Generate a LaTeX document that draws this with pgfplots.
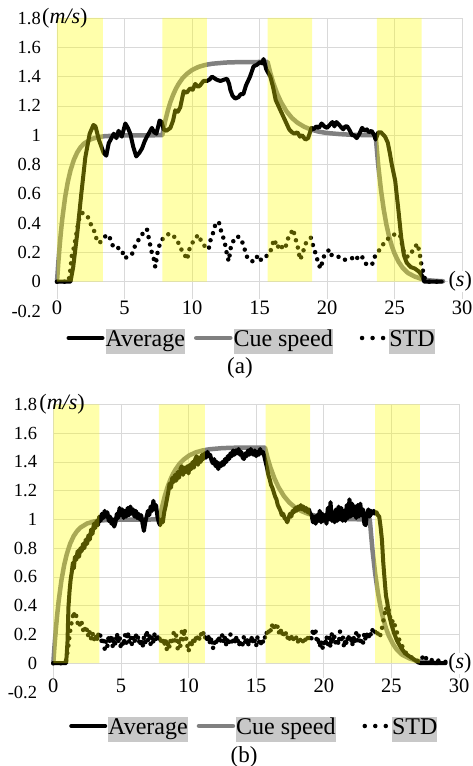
\documentclass[border=0pt]{standalone}
\usepackage{fontspec}
\setmainfont{Liberation Serif}
\usepackage{pgfplots}
\usepackage{pgfplotstable}
\pgfplotsset{compat=1.18}

\definecolor{gridgray}{RGB}{217,217,217}
\definecolor{cuegray}{RGB}{128,128,128}
\definecolor{hl}{RGB}{200,200,200}
\definecolor{band}{RGB}{255,255,0}

\newcommand{\legtext}[1]{{\setlength{\fboxsep}{0pt}\colorbox{hl}{\strut #1}}}

\pgfplotsset{
  panel/.style={
    scale only axis,
    xmin=0, xmax=30, ymin=-0.2, ymax=1.8,
    xtick={0,5,10,15,20,25,30},
    ytick={0,0.2,0.4,0.6,0.8,1,1.2,1.4,1.6,1.8},
    extra y ticks={-0.2},
    extra y tick style={grid=none},
    grid=major,
    grid style={line width=0.8pt, color=gridgray},
    axis line style={draw=none},
    major tick length=0pt,
    clip=false,
    /pgf/number format/assume math mode=true,
    yticklabel style={font=\fontsize{18.5}{20}\selectfont, anchor=east, inner sep=0pt, xshift=-16pt,
      /pgf/number format/fixed, /pgf/number format/precision=1},
    xticklabel style={font=\fontsize{20.5}{21}\selectfont, anchor=center, inner sep=1.5pt, fill=white},
    legend columns=3,
    legend style={draw=none, fill=none, inner sep=0pt, anchor=center,
      font=\fontsize{24}{25}\selectfont,
      nodes={inner sep=0pt},
      /tikz/column 1/.style={column sep=1pt},
      /tikz/column 2/.style={column sep=9pt},
      /tikz/column 3/.style={column sep=1pt},
      /tikz/column 4/.style={column sep=27pt},
      /tikz/column 5/.style={column sep=3pt}},
    legend image code/.code={\draw[##1] (0pt,0pt) -- (34pt,0pt);},
  },
  stdleg/.style={legend image code/.code={\draw[##1, dash pattern=on 0pt off 10.5pt] (2pt,0pt) -- (24pt,0pt);}},
  avg/.style={black, line width=4pt, line join=round, line cap=round},
  cue/.style={cuegray, line width=4.5pt, line join=round, line cap=round},
  std/.style={black, line width=4.5pt, line cap=round, dash pattern=on 0pt off 7.5pt},
  bandfill/.style={draw=none, fill=band, fill opacity=0.33, forget plot},
}

% cue speed (a)
\pgfplotstableread{
t v
0 0
0.1 0.133
0.2 0.249
0.3 0.349
0.4 0.435
0.6 0.576
0.8 0.681
1.0 0.760
1.25 0.832
1.5 0.883
1.75 0.918
2.0 0.943
2.5 0.972
3.0 0.986
3.5 0.993
4.5 0.998
7.8 1.0
8.0 1.091
8.2 1.165
8.4 1.226
8.6 1.275
8.8 1.316
9.0 1.349
9.3 1.389
9.6 1.417
10.0 1.445
10.5 1.467
11.0 1.480
11.5 1.488
12.5 1.496
13.5 1.499
15.6 1.5
15.8 1.426
16.0 1.363
16.3 1.286
16.6 1.225
17.0 1.163
17.4 1.118
17.8 1.086
18.3 1.058
18.8 1.039
19.4 1.024
20.0 1.015
21.0 1.007
22.0 1.002
23.6 1.0
23.8 0.79
24.0 0.625
24.2 0.494
24.4 0.390
24.6 0.308
24.8 0.244
25.0 0.193
25.3 0.136
25.6 0.095
26.0 0.059
26.5 0.035
27.0 0.019
27.5 0.010
28.0 0.006
28.6 0.003
}\cueA

% cue speed (b)
\pgfplotstableread{
t v
0 0
0.1 0.133
0.2 0.249
0.3 0.349
0.4 0.435
0.6 0.576
0.8 0.681
1.0 0.760
1.25 0.832
1.5 0.883
1.75 0.918
2.0 0.943
2.5 0.972
3.0 0.986
3.5 0.993
4.5 0.998
7.85 1.0
8.05 1.091
8.25 1.165
8.45 1.226
8.65 1.275
8.85 1.316
9.05 1.349
9.35 1.389
9.65 1.417
10.05 1.445
10.55 1.467
11.05 1.480
11.55 1.488
12.5 1.496
13.5 1.499
15.65 1.5
15.85 1.426
16.05 1.363
16.35 1.286
16.65 1.225
17.05 1.163
17.45 1.118
17.85 1.086
18.35 1.058
18.85 1.039
19.45 1.024
20.0 1.015
21.0 1.007
22.0 1.002
23.4 1.0
23.6 0.79
23.8 0.625
24.0 0.494
24.2 0.390
24.4 0.308
24.6 0.244
24.8 0.193
25.1 0.136
25.4 0.095
25.8 0.059
26.3 0.035
26.8 0.019
27.3 0.010
27.8 0.006
28.4 0.002
}\cueB

% average (a)
\pgfplotstableread{
t v
0 0
0.5 0
1.0 0
1.2 0.1
1.5 0.33
1.8 0.6
2.1 0.85
2.42 1.01
2.7 1.07
2.85 1.06
3.1 0.97
3.45 0.88
3.65 0.86
3.83 0.945
4.2 1.01
4.4 0.98
4.56 1.03
4.8 0.99
5.06 1.08
5.25 1.05
5.43 1.01
5.65 0.92
5.87 0.855
6.1 0.88
6.3 0.91
6.5 0.96
6.66 0.99
6.85 1.02
7.03 1.05
7.2 1.02
7.36 1.01
7.6 1.10
7.75 1.09
7.9 1.04
8.1 1.03
8.4 1.05
8.6 1.10
8.76 1.17
8.95 1.16
9.13 1.19
9.38 1.30
9.6 1.29
9.87 1.32
10.05 1.31
10.24 1.35
10.45 1.33
10.6 1.34
10.85 1.37
11.1 1.37
11.3 1.38
11.48 1.40
11.8 1.38
12.1 1.37
12.4 1.38
12.6 1.385
12.75 1.35
12.84 1.31
13.0 1.27
13.2 1.25
13.45 1.26
13.6 1.28
13.8 1.28
14.0 1.34
14.3 1.40
14.56 1.47
14.8 1.48
15.06 1.50
15.2 1.49
15.3 1.52
15.5 1.45
15.8 1.40
16.0 1.33
16.2 1.24
16.4 1.20
16.55 1.17
16.8 1.12
17.0 1.08
17.2 1.04
17.4 1.02
17.6 1.01
17.8 1.02
18.0 0.99
18.15 1.0
18.4 0.97
18.6 0.98
18.85 1.05
19.0 1.04
19.2 1.06
19.4 1.05
19.6 1.08
19.8 1.06
20.0 1.05
20.2 1.07
20.4 1.09
20.55 1.06
20.7 1.09
20.9 1.07
21.2 1.04
21.35 1.06
21.5 1.06
21.7 1.03
21.85 1.0
22.0 1.0
22.2 0.98
22.4 1.01
22.6 1.05
22.8 1.03
22.95 1.04
23.1 1.02
23.3 1.03
23.5 1.0
23.6 0.97
23.8 1.02
24.0 1.02
24.3 0.99
24.5 0.95
24.65 0.88
24.8 0.80
25.05 0.69
25.3 0.48
25.5 0.30
25.7 0.18
25.9 0.13
26.2 0.10
26.5 0.09
26.8 0.07
27.05 0.04
27.2 0
28.5 0
}\avgA

% average (b)
\pgfplotstableread{
t v
0 0
0.5 0
0.95 0
1.05 0.15
1.12 0.39
1.2 0.50
1.28 0.58
1.36 0.63
1.45 0.70
1.52 0.66
1.6 0.74
1.7 0.72
1.8 0.78
1.9 0.74
2.0 0.80
2.1 0.78
2.2 0.83
2.3 0.80
2.4 0.86
2.5 0.83
2.6 0.89
2.7 0.86
2.8 0.93
2.9 0.90
3.0 0.97
3.1 0.94
3.2 0.99
3.3 0.96
3.4 1.02
3.5 0.99
3.6 1.04
3.7 1.01
3.8 1.06
3.9 1.02
4.0 1.05
4.1 0.99
4.2 1.02
4.3 0.97
4.4 1.00
4.5 0.95
4.6 0.98
4.7 1.04
4.8 1.01
4.9 1.08
5.0 1.03
5.1 1.07
5.2 1.01
5.3 1.06
5.4 1.02
5.5 1.08
5.6 1.03
5.7 1.09
5.8 1.04
5.9 1.07
6.0 1.02
6.1 1.06
6.2 1.01
6.3 1.04
6.4 1.00
6.5 1.03
6.6 0.97
6.7 0.92
6.8 0.98
6.9 1.02
7.0 1.06
7.1 1.03
7.2 1.09
7.3 1.06
7.4 1.13
7.5 1.07
7.6 1.10
7.7 1.02
7.8 0.98
7.9 0.96
8.0 1.00
8.1 0.98
8.2 1.05
8.3 1.09
8.4 1.14
8.5 1.19
8.6 1.25
8.7 1.22
8.8 1.29
8.9 1.26
9.0 1.31
9.1 1.27
9.2 1.33
9.3 1.29
9.4 1.35
9.5 1.37
9.6 1.31
9.7 1.36
9.8 1.33
9.9 1.37
10.0 1.32
10.1 1.38
10.2 1.35
10.3 1.40
10.4 1.36
10.5 1.42
10.6 1.44
10.7 1.38
10.8 1.43
10.9 1.40
11.0 1.45
11.1 1.42
11.2 1.46
11.3 1.43
11.4 1.47
11.5 1.44
11.6 1.45
11.7 1.41
11.8 1.39
11.9 1.42
12.0 1.37
12.1 1.40
12.2 1.35
12.3 1.39
12.4 1.37
12.5 1.40
12.6 1.38
12.7 1.42
12.8 1.40
12.9 1.44
13.0 1.42
13.1 1.46
13.2 1.44
13.3 1.48
13.4 1.45
13.5 1.48
13.6 1.46
13.7 1.49
13.8 1.45
13.9 1.47
14.0 1.43
14.1 1.42
14.2 1.46
14.3 1.44
14.4 1.48
14.5 1.45
14.6 1.49
14.7 1.46
14.8 1.45
14.9 1.48
15.0 1.44
15.1 1.47
15.2 1.45
15.3 1.49
15.4 1.46
15.5 1.47
15.6 1.44
15.7 1.40
15.8 1.36
15.9 1.31
16.0 1.28
16.1 1.24
16.2 1.22
16.3 1.19
16.4 1.16
16.5 1.14
16.6 1.10
16.7 1.08
16.8 1.06
16.9 1.03
17.0 1.04
17.1 1.01
17.2 1.00
17.3 0.98
17.4 1.01
17.5 1.04
17.6 1.02
17.7 1.06
17.8 1.05
17.9 1.08
18.0 1.06
18.1 1.09
18.2 1.07
18.3 1.10
18.4 1.07
18.5 1.09
18.6 1.06
18.7 1.08
18.8 1.05
18.9 1.07
19.0 1.04
19.1 1.03
19.2 0.98
19.3 1.02
19.4 0.97
19.5 1.03
19.6 0.99
19.7 1.06
19.8 0.98
19.9 1.04
20.0 0.99
20.1 1.03
20.2 0.97
20.3 1.08
20.4 1.00
20.5 1.12
20.6 0.99
20.7 1.05
20.8 0.98
20.9 1.07
21.0 0.99
21.1 1.09
21.2 1.00
21.3 1.08
21.4 0.99
21.5 1.06
21.6 0.99
21.7 1.10
21.8 1.01
21.9 1.14
22.0 1.02
22.1 1.11
22.2 1.03
22.3 1.09
22.4 1.01
22.5 1.10
22.6 1.02
22.7 1.11
22.8 1.03
22.9 1.07
23.0 0.97
23.1 0.96
23.2 1.04
23.3 1.07
23.4 1.02
23.5 1.06
23.6 1.04
23.7 1.06
23.8 1.04
23.9 1.05
24.0 1.03
24.1 1.02
24.2 0.95
24.3 0.86
24.4 0.70
24.5 0.58
24.6 0.47
24.7 0.42
24.8 0.35
24.9 0.31
25.0 0.27
25.2 0.21
25.4 0.16
25.7 0.11
26.0 0.07
26.3 0.05
26.7 0.025
27.0 0.005
27.2 0
29.0 0
}\avgB

% STD (a)
\pgfplotstableread{
t v
0 0
0.85 0
0.99 0.08
1.1 0.18
1.27 0.24
1.48 0.35
1.6 0.42
1.85 0.47
2.17 0.46
2.35 0.43
2.6 0.37
2.85 0.33
2.96 0.27
3.2 0.27
3.58 0.31
3.83 0.32
3.95 0.29
4.2 0.23
4.56 0.23
4.8 0.22
4.99 0.16
5.24 0.17
5.55 0.185
5.68 0.23
5.93 0.26
6.1 0.30
6.37 0.33
6.66 0.36
6.86 0.27
7.03 0.195
7.16 0.16
7.28 0.10
7.45 0.20
7.65 0.27
7.9 0.30
8.15 0.32
8.4 0.33
8.64 0.31
8.89 0.29
9.13 0.23
9.38 0.20
9.63 0.15
9.83 0.23
10.0 0.26
10.25 0.30
10.5 0.32
10.74 0.26
10.99 0.24
11.23 0.22
11.36 0.28
11.55 0.33
11.73 0.39
11.98 0.41
12.2 0.33
12.4 0.28
12.6 0.18
12.72 0.14
12.9 0.25
13.08 0.28
13.33 0.31
13.58 0.30
13.82 0.25
14.02 0.18
14.19 0.15
14.44 0.14
14.69 0.14
14.86 0.18
15.05 0.15
15.3 0.15
15.56 0.18
15.8 0.20
15.9 0.24
16.1 0.29
16.3 0.23
16.54 0.26
16.74 0.22
16.99 0.25
17.16 0.31
17.33 0.33
17.48 0.36
17.65 0.30
17.85 0.23
18.0 0.15
18.2 0.19
18.35 0.25
18.56 0.28
18.8 0.30
19.02 0.23
19.2 0.18
19.38 0.115
19.55 0.09
19.7 0.16
19.95 0.20
20.2 0.22
20.35 0.18
20.6 0.18
20.85 0.17
21.1 0.15
21.35 0.15
21.6 0.15
21.85 0.16
22.1 0.18
22.34 0.15
22.6 0.17
22.84 0.125
23.1 0.11
23.35 0.12
23.58 0.18
23.78 0.20
23.95 0.23
24.2 0.26
24.44 0.29
24.7 0.30
24.94 0.32
25.2 0.33
25.43 0.31
25.7 0.20
25.9 0.17
26.2 0.18
26.4 0.23
26.55 0.24
26.7 0.26
26.85 0.20
27.0 0.11
27.15 0.06
27.3 0
28.6 0
}\stdA

% STD (b)
\pgfplotstableread{
t v
0 0
0.9 0
1.0 0.05
1.1 0.11
1.2 0.19
1.3 0.26
1.4 0.30
1.5 0.36
1.6 0.31
1.7 0.33
1.8 0.28
1.9 0.30
2.0 0.25
2.1 0.28
2.2 0.23
2.3 0.26
2.4 0.21
2.5 0.24
2.6 0.18
2.7 0.22
2.8 0.17
2.9 0.21
3.0 0.16
3.1 0.20
3.2 0.15
3.3 0.21
3.4 0.17
3.5 0.20
3.6 0.13
3.7 0.18
3.8 0.10
3.9 0.16
4.0 0.12
4.1 0.19
4.2 0.14
4.3 0.20
4.4 0.11
4.5 0.17
4.6 0.13
4.7 0.21
4.8 0.15
4.9 0.19
5.0 0.10
5.1 0.16
5.2 0.12
5.3 0.20
5.4 0.14
5.5 0.22
5.6 0.15
5.7 0.19
5.8 0.13
5.9 0.18
6.0 0.14
6.1 0.20
6.2 0.16
6.3 0.19
6.4 0.12
6.5 0.17
6.6 0.11
6.7 0.18
6.8 0.14
6.9 0.23
7.0 0.16
7.1 0.20
7.2 0.13
7.3 0.19
7.4 0.15
7.5 0.21
7.6 0.17
7.7 0.20
7.8 0.15
7.9 0.19
8.0 0.13
8.1 0.18
8.2 0.12
8.3 0.17
8.4 0.09
8.5 0.15
8.6 0.11
8.7 0.18
8.8 0.13
8.9 0.21
9.0 0.15
9.1 0.20
9.2 0.10
9.3 0.16
9.4 0.12
9.5 0.22
9.6 0.16
9.7 0.24
9.8 0.18
9.9 0.13
10.0 0.08
10.1 0.14
10.2 0.11
10.3 0.17
10.4 0.13
10.5 0.19
10.6 0.15
10.7 0.20
10.8 0.17
10.9 0.21
11.0 0.18
11.1 0.21
11.2 0.17
11.3 0.20
11.4 0.15
11.5 0.19
11.6 0.13
11.7 0.18
11.8 0.10
11.9 0.15
12.0 0.12
12.1 0.18
12.2 0.14
12.3 0.19
12.4 0.15
12.5 0.20
12.6 0.14
12.7 0.18
12.8 0.12
12.9 0.17
13.0 0.14
13.1 0.20
13.2 0.15
13.3 0.18
13.4 0.13
13.5 0.19
13.6 0.14
13.7 0.17
13.8 0.11
13.9 0.16
14.0 0.13
14.1 0.19
14.2 0.15
14.3 0.18
14.4 0.12
14.5 0.17
14.6 0.14
14.7 0.19
14.8 0.13
14.9 0.16
15.0 0.12
15.1 0.18
15.2 0.14
15.3 0.17
15.4 0.12
15.5 0.15
15.6 0.19
15.7 0.17
15.8 0.22
15.9 0.20
16.0 0.25
16.1 0.22
16.2 0.27
16.3 0.24
16.4 0.28
16.5 0.23
16.6 0.26
16.7 0.21
16.8 0.24
16.9 0.19
17.0 0.23
17.1 0.18
17.2 0.21
17.3 0.17
17.4 0.20
17.5 0.16
17.6 0.19
17.7 0.15
17.8 0.18
17.9 0.16
18.0 0.19
18.1 0.15
18.2 0.18
18.3 0.15
18.4 0.17
18.5 0.14
18.6 0.17
18.7 0.15
18.8 0.18
18.9 0.15
19.0 0.20
19.1 0.17
19.2 0.24
19.3 0.19
19.4 0.22
19.5 0.14
19.6 0.18
19.7 0.11
19.8 0.16
19.9 0.10
20.0 0.15
20.1 0.12
20.2 0.19
20.3 0.13
20.4 0.18
20.5 0.11
20.6 0.21
20.7 0.15
20.8 0.19
20.9 0.12
21.0 0.17
21.1 0.13
21.2 0.22
21.3 0.16
21.4 0.19
21.5 0.11
21.6 0.17
21.7 0.13
21.8 0.20
21.9 0.15
22.0 0.19
22.1 0.12
22.2 0.18
22.3 0.14
22.4 0.21
22.5 0.15
22.6 0.20
22.7 0.13
22.8 0.17
22.9 0.14
23.0 0.21
23.1 0.16
23.2 0.20
23.3 0.17
23.4 0.22
23.5 0.19
23.6 0.23
23.7 0.20
23.8 0.22
23.9 0.19
24.0 0.21
24.1 0.18
24.2 0.20
24.3 0.24
24.4 0.29
24.5 0.34
24.6 0.39
24.7 0.35
24.8 0.37
24.9 0.32
25.0 0.33
25.1 0.28
25.2 0.29
25.3 0.24
25.4 0.22
25.5 0.18
25.6 0.16
25.7 0.13
25.8 0.12
25.9 0.09
26.0 0.08
26.2 0.06
26.4 0.05
26.6 0.03
26.8 0.03
27.0 0.01
27.2 0.02
27.4 0.06
27.6 0.03
27.8 0.04
28.0 0.02
28.3 0.03
28.6 0.01
29.0 0.01
}\stdB

\begin{document}
\begin{tikzpicture}
\useasboundingbox (-57pt,-455pt) rectangle (415pt,311pt);

% ---- panel (a)
\begin{axis}[panel, at={(0pt,0pt)}, anchor=south west,
  width=405pt, height=293pt,
  xticklabel style={yshift=3.5pt},
  legend style={at={(0.478,0)}, yshift=-27pt}]
  \addplot[cue, forget plot] table[x=t,y=v]{\cueA};
  \addplot[avg, forget plot] table[x=t,y=v]{\avgA};
  \addplot[std, forget plot] table[x=t,y=v]{\stdA};
  \addplot[bandfill] coordinates {(0,0) (0,1.8) (3.4,1.8) (3.4,0)} \closedcycle;
  \addplot[bandfill] coordinates {(7.8,0) (7.8,1.8) (11.1,1.8) (11.1,0)} \closedcycle;
  \addplot[bandfill] coordinates {(15.6,0) (15.6,1.8) (18.9,1.8) (18.9,0)} \closedcycle;
  \addplot[bandfill] coordinates {(23.7,0) (23.7,1.8) (27.0,1.8) (27.0,0)} \closedcycle;
  \addlegendimage{avg}
  \addlegendentry{\legtext{Average}}
  \addlegendimage{cue}
  \addlegendentry{\legtext{Cue speed}}
  \addlegendimage{std, stdleg}
  \addlegendentry{\legtext{STD}}
  \node[anchor=west, inner sep=0pt, xshift=-15pt, font=\fontsize{22}{24}\selectfont]
    at (rel axis cs:0,1) {(\textit{m/s})};
  \node[anchor=west, inner sep=0.5pt, fill=white, font=\fontsize{22}{24}\selectfont]
    at (axis cs:28.96,0) {(\textit{s})};
\end{axis}
\node[font=\fontsize{23}{25}\selectfont] at (183pt,-57pt) {(a)};

% ---- panel (b)
\begin{axis}[panel, at={(-3.7pt,-381pt)}, anchor=south west,
  width=405.7pt, height=287.6pt,
  xticklabel style={yshift=6pt},
  legend style={at={(0.493,0)}, yshift=-34pt}]
  \addplot[cue, forget plot] table[x=t,y=v]{\cueB};
  \addplot[avg, forget plot] table[x=t,y=v]{\avgB};
  \addplot[std, forget plot] table[x=t,y=v]{\stdB};
  \addplot[bandfill] coordinates {(0,0) (0,1.8) (3.4,1.8) (3.4,0)} \closedcycle;
  \addplot[bandfill] coordinates {(7.8,0) (7.8,1.8) (11.2,1.8) (11.2,0)} \closedcycle;
  \addplot[bandfill] coordinates {(15.7,0) (15.7,1.8) (19.0,1.8) (19.0,0)} \closedcycle;
  \addplot[bandfill] coordinates {(23.8,0) (23.8,1.8) (27.1,1.8) (27.1,0)} \closedcycle;
  \addlegendimage{avg}
  \addlegendentry{\legtext{Average}}
  \addlegendimage{cue}
  \addlegendentry{\legtext{Cue speed}}
  \addlegendimage{std, stdleg}
  \addlegendentry{\legtext{STD}}
  \node[anchor=west, inner sep=0pt, xshift=-14pt, font=\fontsize{22}{24}\selectfont]
    at (rel axis cs:0,1) {(\textit{m/s})};
  \node[anchor=west, inner sep=0.5pt, fill=white, font=\fontsize{22}{24}\selectfont]
    at (axis cs:29.16,0) {(\textit{s})};
\end{axis}
\node[font=\fontsize{23}{25}\selectfont] at (187pt,-446pt) {(b)};
\end{tikzpicture}
\end{document}
